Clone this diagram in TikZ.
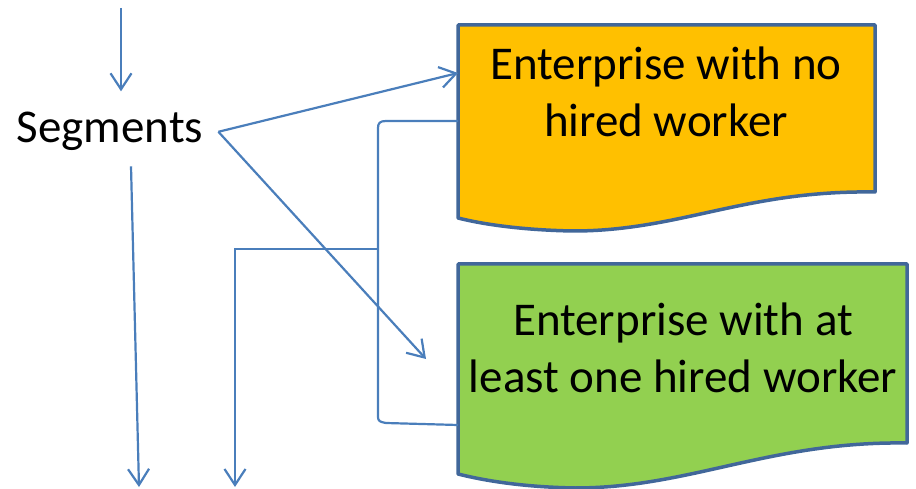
\documentclass[tikz,border=0pt]{standalone}
\usepackage{fontspec}
\setmainfont{Carlito}
\usetikzlibrary{arrows.meta,calc}
\definecolor{connc}{HTML}{4A7EBB}
\definecolor{bordc}{HTML}{41679A}
\definecolor{orngc}{HTML}{FFC000}
\definecolor{grnc}{HTML}{92D050}
\begin{document}
\begin{tikzpicture}[x=1pt,y=-1pt,
  conn/.style={draw=connc, line width=2.2pt},
  arr/.style={conn, -{Straight Barb[length=16pt,width=21pt]}},
  docshape/.style={draw=bordc, line width=3.5pt, line join=round},
  lbl/.style={font=\fontsize{47}{57}\selectfont, align=center, inner sep=0pt}]
\useasboundingbox (0,0) rectangle (916,489);
% document shapes
\path[docshape, fill=orngc] (458,25) -- (875,25) -- (875,192)
  .. controls (745,190) and (680,231) .. (573,231)
  .. controls (520,230) and (482,224) .. (458,218) -- cycle;
\path[docshape, fill=grnc] (458,264) -- (907,264) -- (907,443)
  .. controls (770,441) and (690,488) .. (575,488)
  .. controls (520,487) and (482,480) .. (458,474) -- cycle;
% texts
\node[lbl, anchor=base] (box1) at (666,137) {Enterprise with no\\hired worker};
\node[lbl, anchor=base] (box2) at (683,392) {Enterprise with at\\least one hired worker};
\node[lbl, anchor=base, inner sep=15pt] (seg) at (110,143) {Segments};
% coordinates on the box edges and free ends
\coordinate (topin) at (121,8);
\coordinate (b1in) at (458,73);
\coordinate (b1out) at (458,121);
\coordinate (b2out) at (458,425);
\coordinate (b2tip) at (426,359);
\coordinate (jn) at (378,249);
\coordinate (downA) at (139,487);
\coordinate (downB) at (235,487);
% connectors
\draw[arr] (topin) -- ([yshift=6pt]seg.north -| topin);
\draw[arr] (seg.east) -- (b1in);
\draw[arr] (seg.east) -- (b2tip);
\draw[conn] (b1out) -- (386,121) .. controls (380,121) and (378,123) .. (378,128)
  -- (378,417) .. controls (378,421) and (380,422) .. (386,423) -- (b2out);
\draw[arr] (jn) -- (jn -| downB) -- (downB);
\draw[arr] ($(seg.south)+(21,0)$) -- (downA);
\end{tikzpicture}
\end{document}
